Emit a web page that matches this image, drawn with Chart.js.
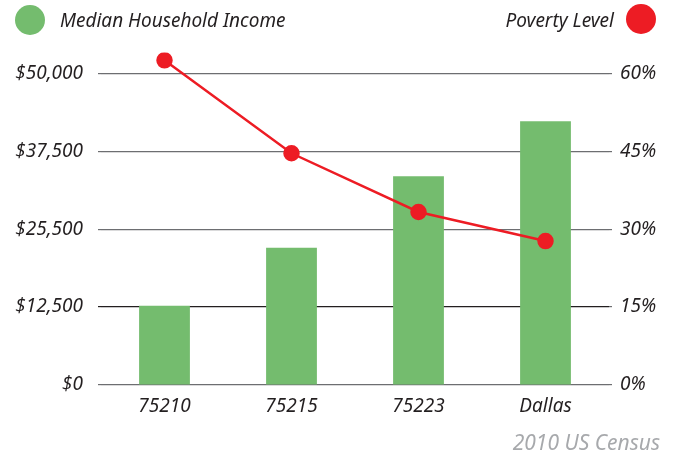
<!DOCTYPE html>
<html>
<head>
<meta charset="utf-8">
<script src="https://cdn.jsdelivr.net/npm/chart.js@4/dist/chart.umd.min.js"></script>
<style>
  html, body { margin: 0; padding: 0; background: #fff; }
  #wrap { position: relative; width: 678px; height: 454px; font-family: "Noto Sans", sans-serif; font-style: italic; color: #231f20; }
  #chart { position: absolute; left: 0; top: 0; }
  .dot { position: absolute; width: 30px; height: 30px; border-radius: 50%; }
  .lbl { position: absolute; font-size: 19px; line-height: 24px; white-space: nowrap; }
  #note { position: absolute; right: 18px; top: 428px; font-size: 21px; line-height: 28px; color: #a7a9ac; white-space: nowrap; }
</style>
</head>
<body>
<div id="wrap">
  <canvas id="chart" width="678" height="454"></canvas>
  <div class="dot" style="left:15px;top:5px;background:#74bc6e"></div>
  <div class="lbl" style="left:60px;top:8px">Median Household Income</div>
  <div class="lbl" style="right:64px;top:8px">Poverty Level</div>
  <div class="dot" style="left:626px;top:4px;background:#ed1c24"></div>
  <div id="note">2010 US Census</div>
</div>
<script>
const categories = ["75210", "75215", "75223", "Dallas"];
const incomeValues = [12700, 22000, 33500, 42300];
const povertyValues = [62.5, 44.6, 33.3, 27.7];
const incomeTicks = [0, 12500, 25000, 37500, 50000];
const incomeTickLabels = ["$0", "$12,500", "$25,500", "$37,500", "$50,000"];
const povertyTicks = [0, 15, 30, 45, 60];
const povertyTickLabels = ["0%", "15%", "30%", "45%", "60%"];

// headroom above the top gridline so the first point is not cut off
const povertyMax = 64;
const incomeMax = 50000 * povertyMax / 60;

const green = "#74bc6e";
const red = "#ed1c24";
const tickFont = { family: "Noto Sans", style: "italic", size: 19 };

function gridColor(ctx) {
  return ctx.tick && ctx.tick.value === 12500 ? "#231f20" : "#6d6e71";
}

const ctx = document.getElementById("chart").getContext("2d");
new Chart(ctx, {
  data: {
    labels: categories,
    datasets: [
      {
        type: "line",
        label: "Poverty Level",
        data: povertyValues,
        yAxisID: "yRight",
        borderColor: red,
        backgroundColor: red,
        borderWidth: 2.5,
        pointRadius: 7,
        pointHoverRadius: 7,
        tension: 0,
        order: 0
      },
      {
        type: "bar",
        label: "Median Household Income",
        data: incomeValues,
        yAxisID: "yLeft",
        backgroundColor: green,
        barPercentage: 0.8,
        categoryPercentage: 0.5,
        order: 1
      }
    ]
  },
  options: {
    responsive: false,
    animation: false,
    layout: { padding: { top: 52.5, bottom: 0, left: 0, right: 0 } },
    plugins: { legend: { display: false }, tooltip: { enabled: false } },
    scales: {
      x: {
        grid: { display: false, drawTicks: false },
        border: { display: false },
        ticks: { color: "#231f20", font: tickFont, padding: 10 },
        afterFit: function (s) { s.height = 69; }
      },
      yLeft: {
        position: "left",
        min: 0,
        max: incomeMax,
        afterBuildTicks: function (s) { s.ticks = incomeTicks.map(function (v) { return { value: v }; }); },
        grid: { color: gridColor, lineWidth: 1.2, tickLength: 3 },
        border: { display: false },
        ticks: {
          color: "#231f20",
          font: tickFont,
          padding: 15,
          callback: function (v) { return incomeTickLabels[incomeTicks.indexOf(v)]; }
        },
        afterFit: function (s) { s.width = 101; }
      },
      yRight: {
        position: "right",
        min: 0,
        max: povertyMax,
        afterBuildTicks: function (s) { s.ticks = povertyTicks.map(function (v) { return { value: v }; }); },
        ticks: {
          color: "#231f20",
          font: tickFont,
          padding: 8,
          callback: function (v) { return povertyTickLabels[povertyTicks.indexOf(v)]; }
        },
        grid: { drawOnChartArea: false, color: gridColor, tickLength: 3, lineWidth: 1.2 },
        border: { display: false },
        afterFit: function (s) { s.width = 69; }
      }
    }
  }
});
</script>
</body>
</html>
